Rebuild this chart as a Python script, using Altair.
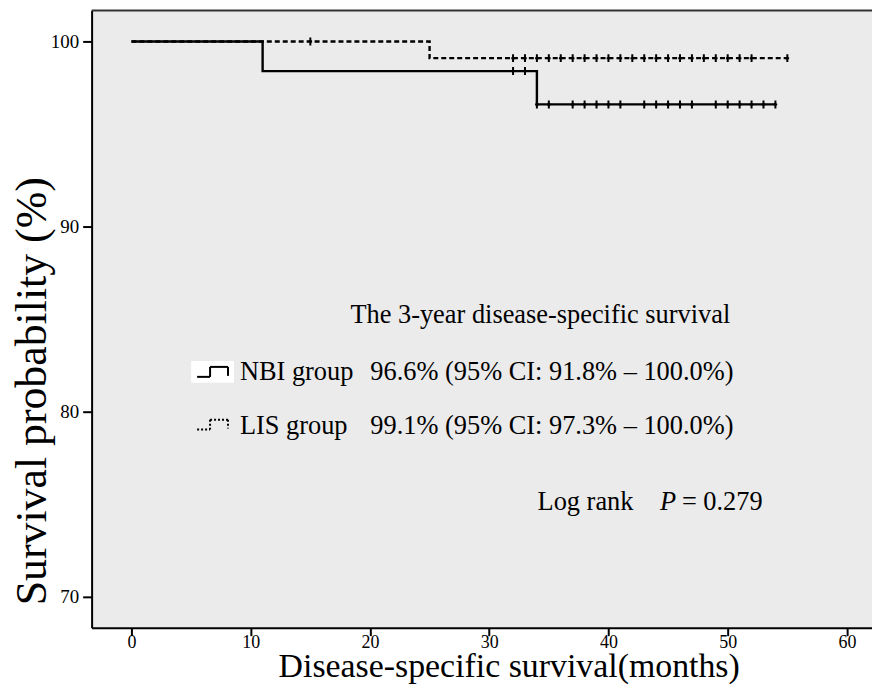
import altair as alt
import pandas as pd
import numpy as np

# ---- data ----
nbi_times = [0, 11, 34, 54]
nbi_surv = [100.0, 98.4, 96.6, 96.6]
lis_times = [0, 25, 55]
lis_surv = [100.0, 99.1, 99.1]
nbi_censor = [32, 33, 34, 35, 37, 38, 39, 40, 41, 43, 44, 45, 46, 47, 49, 50, 51, 52, 53, 54]
lis_censor = [15, 32, 33, 34, 35, 36, 37, 38, 39, 40, 41, 42, 43, 44, 45, 46, 47, 48, 49,
              50, 51, 52, 55]
x_ticks = [0, 10, 20, 30, 40, 50, 60]
y_ticks = [70, 80, 90, 100]


def surv_at(times, surv, t):
    idx = np.searchsorted(times, t, side="right") - 1
    return [surv[i] for i in idx]


nbi_df = pd.DataFrame({"t": nbi_times, "s": nbi_surv})
lis_df = pd.DataFrame({"t": lis_times, "s": lis_surv})
nbi_c = pd.DataFrame({"t": nbi_censor, "s": surv_at(nbi_times, nbi_surv, nbi_censor)})
lis_c = pd.DataFrame({"t": lis_censor, "s": surv_at(lis_times, lis_surv, lis_censor)})

FONT = "Liberation Serif"
W, H = 784, 620

xs = alt.Scale(domain=[-3.34, 62.1], nice=False, zero=False)
ys = alt.Scale(domain=[68.33, 101.67], nice=False, zero=False)

x_axis = alt.Axis(values=x_ticks, format="d", grid=False, labelFont=FONT, labelFontSize=18,
                  labelColor="black", tickColor="black", tickWidth=2, tickSize=8,
                  domainColor="black", domainWidth=2, labelPadding=-2,
                  title="Disease-specific survival(months)", titleFont=FONT,
                  titleFontSize=34, titleFontWeight="normal", titleColor="black",
                  titleX=419, titleY=49, titleAlign="center", titleBaseline="alphabetic")
y_axis = alt.Axis(values=y_ticks, format="d", grid=False, labelFont=FONT, labelFontSize=19,
                  labelColor="black", tickColor="black", tickWidth=2, tickSize=9,
                  domainColor="black", domainWidth=2, labelPadding=4,
                  title="Survival probability (%)", titleFont=FONT, titleFontSize=44,
                  titleFontWeight="normal", titleColor="black", titleAngle=270,
                  titleX=-59, titleY=382, titleAlign="center", titleBaseline="middle")

X = alt.X("t:Q", scale=xs, axis=x_axis)
Y = alt.Y("s:Q", scale=ys, axis=y_axis)

nbi_line = alt.Chart(nbi_df).mark_line(interpolate="step-after", color="black",
                                        strokeWidth=2.4).encode(x=X, y=Y)
lis_line = alt.Chart(lis_df).mark_line(interpolate="step-after", color="black",
                                        strokeWidth=2.4, strokeDash=[5, 3]).encode(x=X, y=Y)
tick_shape = "M0,-1L0,1M-0.45,0L0.45,0"
nbi_pts = alt.Chart(nbi_c).mark_point(shape=tick_shape, size=64, color="black",
                                      strokeWidth=2, filled=False, opacity=1).encode(x=X, y=Y)
lis_pts = alt.Chart(lis_c).mark_point(shape=tick_shape, size=64, color="black",
                                      strokeWidth=2, filled=False, opacity=1).encode(x=X, y=Y)

dummy = pd.DataFrame({"a": [0]})

# top frame line
top = alt.Chart(dummy).mark_rule(color="#333333", strokeWidth=2).encode(
    x=alt.value(0), x2=alt.value(W), y=alt.value(0))


def txt(s, x, y, style="normal", size=26.5):
    return alt.Chart(dummy).mark_text(text=s, font=FONT, fontSize=size, fontStyle=style,
                                      color="black", align="left", baseline="middle").encode(
        x=alt.value(x), y=alt.value(y))


texts = [
    txt("The 3-year disease-specific survival", 260, 306),
    txt("NBI group", 149, 363),
    txt("96.6% (95% CI: 91.8% \u2013 100.0%)", 280, 363),
    txt("LIS group", 149, 417),
    txt("99.1% (95% CI: 97.3% \u2013 100.0%)", 280, 417),
    txt("Log rank", 448, 494),
    txt("P", 571, 494, style="italic"),
    txt("= 0.279", 593, 494),
]

# legend swatches
box = alt.Chart(dummy).mark_rect(color="white").encode(
    x=alt.value(100), x2=alt.value(143), y=alt.value(352), y2=alt.value(374))


def seg(x1, y1, x2, y2, dash=None):
    kw = dict(color="black", strokeWidth=2)
    if dash:
        kw["strokeDash"] = dash
    return alt.Chart(dummy).mark_rule(**kw).encode(
        x=alt.value(x1), y=alt.value(y1), x2=alt.value(x2), y2=alt.value(y2))


nbi_icon = [seg(106, 368, 119, 368), seg(119, 368, 119, 358), seg(119, 358, 137, 358),
            seg(137, 358, 137, 367)]
lis_icon = [seg(106, 421, 119, 421, [2, 2]), seg(119, 421, 119, 411, [2, 2]),
            seg(119, 411, 137, 411, [2, 2]), seg(137, 411, 137, 420, [2, 2])]

chart = alt.layer(nbi_line, lis_line, nbi_pts, lis_pts, top, box, *nbi_icon, *lis_icon,
                  *texts).properties(
    width=W, height=H,
    autosize=alt.AutoSizeParams(type="none"),
    padding={"left": 84, "top": 1, "right": 0, "bottom": 57},
    background="white",
).configure_view(fill="#ebebeb", strokeWidth=0)

chart.save("out.html", embed_options={"renderer": "svg", "actions": False})
